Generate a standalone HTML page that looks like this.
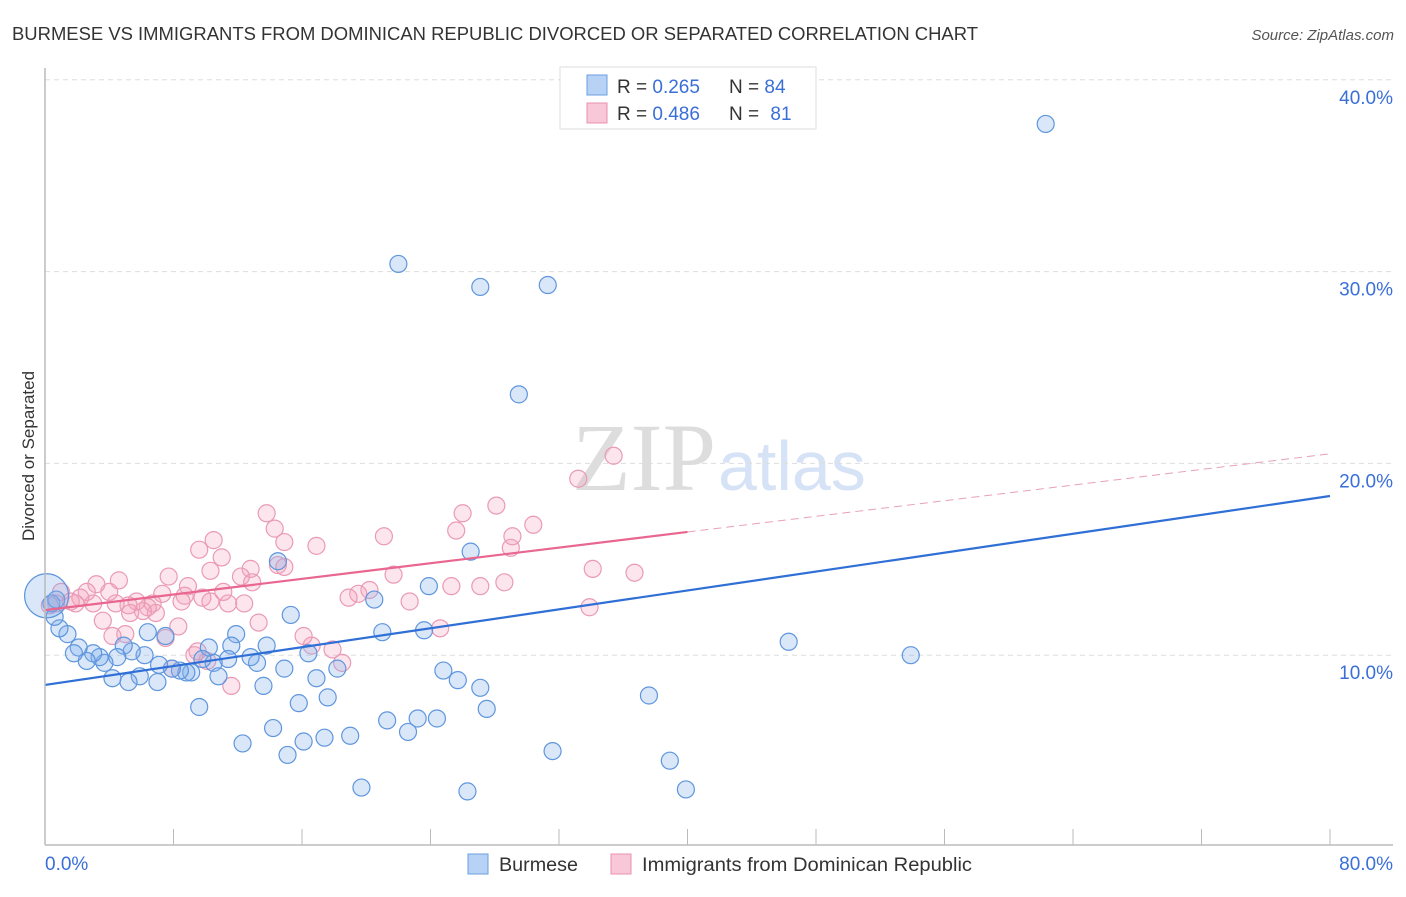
<!DOCTYPE html><html><head><meta charset="utf-8"><style>
body{margin:0;background:#fff;font-family:"Liberation Sans",sans-serif}
</style></head><body>
<svg id="c" width="1406" height="892" viewBox="0 0 1406 892" xmlns="http://www.w3.org/2000/svg">
<text x="12" y="40" font-size="18" fill="#333" textLength="966" lengthAdjust="spacingAndGlyphs">BURMESE VS IMMIGRANTS FROM DOMINICAN REPUBLIC DIVORCED OR SEPARATED CORRELATION CHART</text>
<text x="1394" y="40" font-size="15" fill="#555" font-style="italic" text-anchor="end">Source: ZipAtlas.com</text>
<text x="34" y="456" font-size="17" fill="#333" text-anchor="middle" transform="rotate(-90 34 456)">Divorced or Separated</text>
<text x="716" y="490" font-size="96" fill="#ddd" font-family="Liberation Serif,serif" text-anchor="end">ZIP</text>
<text x="718" y="490" font-size="70" fill="#d6e2f5">atlas</text>
<g id="grid"></g><g id="pts"></g><g id="lines"></g>
<line x1="45" y1="845" x2="1393" y2="845" stroke="#bbb" stroke-width="1.5"/>
<line x1="45" y1="68" x2="45" y2="845" stroke="#bbb" stroke-width="1.5"/>
<text x="45" y="870" font-size="19" fill="#3a6fd8">0.0%</text>
<text x="1393" y="870" font-size="19" fill="#3a6fd8" text-anchor="end">80.0%</text>
<g>
<rect x="468" y="854" width="20" height="20" fill="#b7d2f5" stroke="#6a9fe0"/>
<text x="499" y="871" font-size="19" fill="#333" textLength="79" lengthAdjust="spacingAndGlyphs">Burmese</text>
<rect x="611" y="854" width="20" height="20" fill="#f9c8d8" stroke="#e890b0"/>
<text x="642" y="871" font-size="19" fill="#333" textLength="330" lengthAdjust="spacingAndGlyphs">Immigrants from Dominican Republic</text>
</g>
<g>
<rect x="560" y="67" width="256" height="62" fill="#fff" stroke="#ddd"/>
<rect x="587" y="75" width="20" height="20" fill="#b7d2f5" stroke="#6a9fe0"/>
<text x="617" y="93" font-size="19" fill="#333">R = <tspan fill="#3a6fd8">0.265</tspan></text>
<text x="729" y="93" font-size="19" fill="#333">N = <tspan fill="#3a6fd8">84</tspan></text>
<rect x="587" y="103" width="20" height="20" fill="#f9c8d8" stroke="#e890b0"/>
<text x="617" y="120" font-size="19" fill="#333">R = <tspan fill="#3a6fd8">0.486</tspan></text>
<text x="729" y="120" font-size="19" fill="#333">N = <tspan fill="#3a6fd8" dx="6">81</tspan></text>
</g>
</svg>
<script>
const yTicks=[10,20,30,40];
const xTickVals=[0,8,16,24,32,40,48,56,64,72,80];
const blueX=[62.3,22.0,27.1,31.3,29.5,26.5,14.5,23.9,20.5,15.3,46.3,53.9,21.0,23.6,37.6,24.8,25.7,27.1,27.5,31.6,38.9,39.9,26.3,19.7,24.4,23.2,22.6,21.3,19.0,17.4,16.1,15.1,14.2,12.3,9.6,15.8,17.6,16.9,18.2,16.4,14.9,13.6,13.2,13.8,12.8,11.9,11.6,11.4,10.2,10.5,10.8,9.8,9.1,8.8,8.4,7.9,7.5,6.4,7.1,7.0,6.2,5.4,5.9,5.2,4.9,4.5,4.2,3.7,3.4,3.0,2.6,2.1,1.8,1.4,0.9,0.6,0.4,0.7];
const blueY=[37.7,30.4,29.2,29.3,23.6,15.4,14.9,13.6,12.9,12.1,10.7,10.0,11.2,11.3,7.9,9.2,8.7,8.3,7.2,5.0,4.5,3.0,2.9,3.1,6.7,6.7,6.0,6.6,5.8,5.7,5.5,4.8,6.2,5.4,7.3,7.5,7.8,8.8,9.3,10.1,9.3,8.4,9.6,10.5,9.9,11.1,10.5,9.8,10.4,9.6,8.9,9.8,9.1,9.1,9.2,9.3,11.0,11.2,9.5,8.6,10.0,10.2,8.9,8.6,10.5,9.9,8.8,9.6,9.9,10.1,9.7,10.4,10.1,11.1,11.4,12.0,12.7,12.9];
const pinkX=[35.4,33.2,28.1,30.4,26.0,25.6,21.1,13.8,14.3,14.9,16.9,10.5,9.6,11.0,10.3,12.8,12.2,12.9,14.5,14.9,29.0,29.1,34.1,36.7,33.9,28.6,27.1,25.3,21.7,20.2,19.5,18.9,22.7,24.6,17.9,18.5,16.6,16.1,13.3,12.4,11.4,11.1,10.3,9.8,8.9,8.7,8.5,7.7,7.3,6.9,6.7,6.4,6.1,5.7,5.3,5.2,4.6,4.4,4.0,3.6,3.2,3.0,2.6,2.2,1.9,1.6,1.0,0.7,0.3,5.0,4.2,8.3,7.5,9.3,7.9,11.6,10.1,9.5];
const pinkY=[20.4,19.2,17.8,16.8,17.4,16.5,16.2,17.4,16.6,15.9,15.7,16.0,15.5,15.1,14.4,14.5,14.1,13.8,14.7,14.6,15.6,16.2,14.5,14.3,12.5,13.8,13.6,13.6,14.2,13.4,13.2,13.0,12.8,11.4,10.3,9.6,10.5,11.0,11.7,12.7,12.7,13.3,12.8,13.0,13.6,13.1,12.8,14.1,13.2,12.2,12.7,12.5,12.3,12.8,12.2,12.6,13.9,12.7,13.3,11.8,13.7,12.7,13.3,13.0,12.7,12.8,13.3,12.7,12.6,11.1,11.0,11.5,10.9,10.0,9.3,8.4,9.7,10.2];
const blueTrend=[8.45,18.3];   // at x=0 and x=80
const pinkTrend=[12.35,20.5];  // at x=0 and x=80
const pinkSolidEnd=40;
const sx=v=>45+v*1285/80, sy=v=>847-v*19.18;
const NS="http://www.w3.org/2000/svg";
function mk(tag,at,parent){const e=document.createElementNS(NS,tag);for(const k in at)e.setAttribute(k,at[k]);parent.appendChild(e);return e;}
const grid=document.getElementById('grid'),pts=document.getElementById('pts'),lines=document.getElementById('lines'),svg=document.getElementById('c');
yTicks.forEach(t=>{
 const l=mk('line',{x1:45,x2:1393,y1:sy(t),y2:sy(t),stroke:'#ddd','stroke-dasharray':'5,4'},grid);
 
 
 const tx=mk('text',{x:1393,y:sy(t)+24,'font-size':19,fill:'#3a6fd8','text-anchor':'end'},svg);
 tx.textContent=t.toFixed(1)+'%';
 
 
});
xTickVals.forEach(t=>{
 const l=mk('line',{x1:sx(t),x2:sx(t),y1:829,y2:845,stroke:'#bbb'},grid);
 
 
});
pinkX.forEach((x,i)=>{
 const c=mk('circle',{cx:sx(x),cy:sy(pinkY[i]),r:8.5,fill:'rgba(244,160,188,0.28)',stroke:'#ea9ab6','stroke-width':1.2},pts);
 
 
});
blueX.forEach((x,i)=>{
 const c=mk('circle',{cx:sx(x),cy:sy(blueY[i]),r:8.5,fill:'rgba(130,175,235,0.3)',stroke:'#5f96dd','stroke-width':1.2},pts);
 
 
});
const big=mk('circle',{cx:sx(0.1),cy:sy(13.1),r:22,fill:'rgba(130,175,235,0.3)',stroke:'#5f96dd','stroke-width':1.2},pts);


const pAt=x=>pinkTrend[0]+(pinkTrend[1]-pinkTrend[0])*x/80;
const bl=mk('line',{x1:sx(0),y1:sy(blueTrend[0]),x2:sx(80),y2:sy(blueTrend[1]),stroke:'#2f6fd6','stroke-width':2.2},lines);


const pl=mk('line',{x1:sx(0),y1:sy(pAt(0)),x2:sx(pinkSolidEnd),y2:sy(pAt(pinkSolidEnd)),stroke:'#e8668f','stroke-width':2.2},lines);


const pd=mk('line',{x1:sx(pinkSolidEnd),y1:sy(pAt(pinkSolidEnd)),x2:sx(80),y2:sy(pAt(80)),stroke:'#e8a0b8','stroke-width':1,'stroke-dasharray':'8,5'},lines);


</script>
</body></html>
